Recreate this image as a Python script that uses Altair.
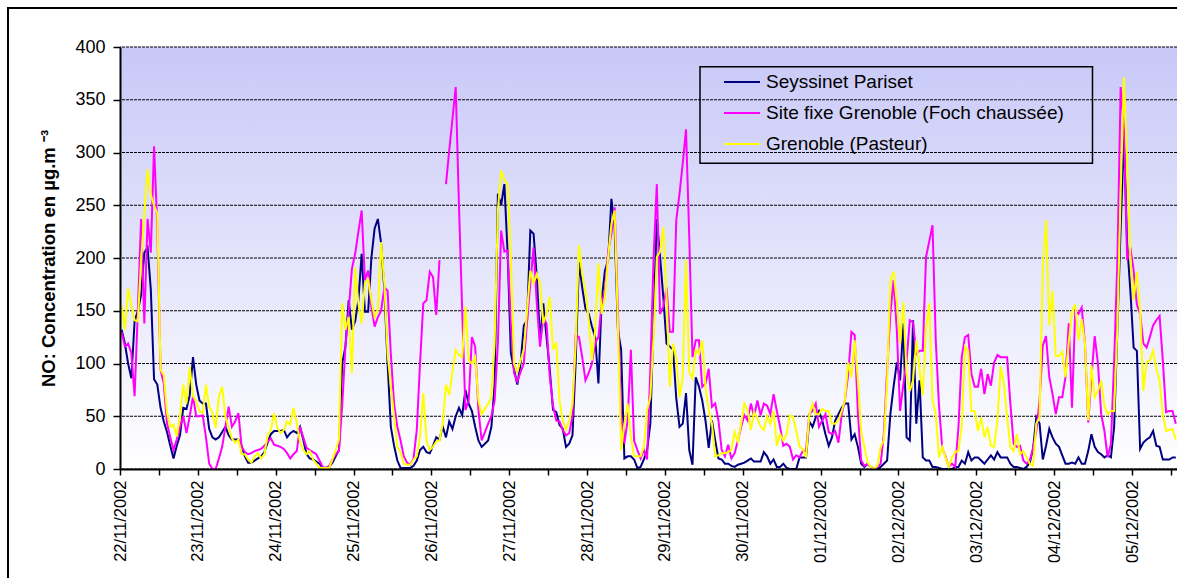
import altair as alt
import pandas as pd

# Hourly NO concentrations (µg/m3), first value at 22/11/2002 00:30
seyssinet = [
    132, 119, 100, 86, 140, 150, 165, 205, 210, 170, 85, 80, 58, 45, 35, 22, 10, 22, 32, 58, 57, 70, 106, 80,
    65, 62, 62, 38, 30, 28, 30, 35, 40, 32, 28, 28, 28, 22, 12, 6, 6, 8, 10, 12, 16, 25, 33, 36,
    36, 36, 37, 30, 34, 36, 34, 40, 28, 14, 10, 9, 7, 5, 1, 1, 2, 6, 12, 18, 100, 116, 160, 132,
    140, 160, 204, 149, 149, 200, 228, 237, 214, 170, 100, 40, 22, 8, 1, 1, 1, 1, 3, 8, 18, 21, 16, 15,
    22, 30, 28, 40, 30, 45, 38, 50, 58, 51, 75, 62, 55, 40, 27, 21, 24, 27, 40, 80, 261, 250, 270, 205,
    110, 94, 80, 100, 136, 141, 226, 223, 182, 122, 157, 125, 94, 56, 54, 42, 38, 21, 24, 32, 103, 196, 172, 152,
    147, 135, 125, 81, 160, 188, 198, 256, 229, 132, 113, 10, 12, 12, 9, 1, 2, 9, 18, 43, 141, 237, 201, 163,
    119, 116, 113, 67, 40, 43, 72, 18, 4, 87, 78, 65, 46, 20, 46, 27, 10, 9, 5, 5, 3, 2, 4, 5,
    6, 8, 10, 7, 7, 7, 16, 12, 5, 9, 2, 2, 5, 1, 0, 0, 0, 11, 11, 11, 45, 40, 49, 55,
    46, 33, 22, 30, 46, 52, 58, 62, 62, 28, 33, 21, 5, 2, 5, 2, 0, 0, 2, 5, 8, 52, 78, 101,
    84, 138, 30, 27, 141, 43, 84, 11, 8, 8, 2, 2, 1, 0, 0, 0, 0, 2, 2, 8, 5, 16, 8,
    11, 11, 8, 5, 9, 13, 9, 16, 11, 11, 11, 5, 2, 2, 1, 0, 2, 6, 19, 49, 43, 9, 22, 38,
    30, 24, 21, 13, 5, 5, 6, 5, 11, 5, 5, 17, 33, 21, 16, 14, 11, 13, 11, 40, 134, 229, 315, 213,
    169, 115, 112, 19, 25, 28, 30, 36, 22, 21, 9, 9, 9, 11, 11,
]

foch = [
    130, 116, 119, 110, 69, 150, 237, 138, 237, 205, 306, 230, 94, 81, 43, 30, 18, 28, 40, 50, 34, 50, 69, 50,
    50, 51, 30, 5, 0, 0, 10, 21, 40, 59, 40, 45, 53, 21, 16, 14, 15, 17, 18, 19, 22, 26, 29, 23,
    22, 21, 19, 15, 10, 14, 17, 40, 30, 20, 18, 16, 14, 8, 2, 1, 3, 9, 14, 17, 60, 116, 150, 190,
    204, 225, 245, 179, 188, 154, 135, 144, 150, 172, 169, 109, 62, 40, 27, 12, 6, 4, 10, 37, 100, 157, 160, 187,
    182, 146, 198, None, 270, 302, 332, 362, 250, 150, 56, 65, 125, 116, 56, 27, 35, 43, 50, 65, 119, 226, 206, 207,
    138, 91, 83, 92, 100, 140, 176, 210, 157, 116, 144, 138, 87, 60, 46, 45, 37, 32, 34, 50, 127, 125, 106, 84,
    91, 100, 120, 125, 157, 169, 206, 223, 248, 150, 50, 24, 46, 113, 27, 18, 10, 18, 9, 94, 200, 270, 147, 154,
    172, 130, 130, 236, 261, 290, 322, 220, 106, 122, 122, 78, 81, 95, 59, 62, 46, 18, 12, 23, 10, 15, 27, 40,
    51, 46, 62, 50, 65, 51, 62, 60, 52, 71, 55, 40, 22, 24, 21, 9, 13, 11, 17, 17, 52, 55, 62, 40,
    46, 52, 35, 33, 36, 25, 52, 65, 90, 130, 127, 52, 8, 3, 5, 2, 0, 2, 5, 33, 93, 147, 179, 131,
    55, 80, 103, 141, 139, 109, 112, 112, 201, 216, 231, 122, 60, 20, 12, 2, 5, 2, 40, 106, 125, 127, 90,
    78, 78, 95, 71, 90, 79, 101, 108, 106, 106, 106, 62, 24, 21, 22, 8, 5, 8, 20, 36, 65, 117, 126, 87,
    71, 52, 68, 68, 87, 138, 58, 150, 147, 153, 119, 44, 87, 126, 100, 52, 36, 11, 24, 103, 198, 362, 324, 198,
    210, 188, 156, 147, 119, 115, 125, 136, 141, 145, 103, 54, 55, 55, 43,
]

pasteur = [
    155, 132, 171, 155, 141, 140, 198, 242, 284, 260, 250, 242, 94, 89, 53, 40, 42, 31, 50, 80, 62, 97, 69, 64,
    55, 53, 80, 59, 53, 39, 69, 78, 50, 39, 29, 25, 28, 14, 14, 9, 6, 12, 15, 10, 14, 32, 37, 53,
    39, 34, 37, 45, 42, 58, 43, 26, 18, 14, 17, 9, 5, 1, 1, 1, 1, 9, 18, 28, 157, 132, 144, 91,
    191, 157, 138, 176, 180, 160, 144, 151, 215, 176, 109, 78, 50, 21, 16, 5, 4, 4, 9, 12, 31, 72, 27, 18,
    21, 26, 27, 43, 80, 70, 92, 113, 108, 106, 154, 103, 100, 106, 65, 52, 57, 62, 68, 120, 245, 283, 274, 270,
    200, 100, 92, 103, 113, 150, 188, 176, 185, 176, 138, 147, 163, 113, 120, 65, 46, 37, 46, 62, 119, 212, 185, 169,
    141, 103, 132, 195, 147, 163, 201, 232, 245, 138, 18, 43, 62, 31, 12, 12, 12, 21, 56, 68, 125, 201, 206, 229,
    163, 78, 119, 106, 68, 87, 198, 92, 86, 113, 109, 122, 78, 56, 43, 12, 13, 15, 15, 16, 18, 35, 26, 43,
    62, 56, 37, 54, 48, 40, 37, 50, 43, 55, 22, 33, 27, 33, 51, 49, 36, 21, 19, 11, 51, 62, 52, 52,
    57, 55, 55, 43, 43, 46, 55, 65, 101, 87, 122, 84, 36, 21, 6, 2, 0, 3, 21, 27, 84, 179, 187, 158,
    119, 158, 90, 74, 84, 122, 95, 70, 134, 157, 65, 52, 11, 21, 11, 2, 11, 16, 17, 40, 116, 112, 55,
    55, 36, 49, 30, 40, 22, 21, 46, 97, 81, 49, 21, 17, 33, 14, 17, 11, 5, 3, 43, 49, 191, 236, 136,
    169, 107, 107, 111, 87, 120, 149, 156, 122, 142, 119, 46, 98, 68, 74, 84, 60, 52, 55, 55, 134, 261, 371, 292,
    201, 160, 187, 150, 74, 101, 103, 112, 95, 84, 52, 36, 37, 38, 28,
]

station_names = [
    "Seyssinet Pariset",
    "Site fixe Grenoble (Foch chaussée)",
    "Grenoble (Pasteur)",
]
station_colors = ["#000080", "#FF00FF", "#FFFF00"]
y_ticks = [0, 50, 100, 150, 200, 250, 300, 350, 400]
x_ticks = list(range(0, 325, 12))  # every 12 hours

rows = []
for name, values in zip(station_names, [seyssinet, foch, pasteur]):
    for k, v in enumerate(values):
        rows.append({"heure": k + 0.5, "station": name, "no": v})
df = pd.DataFrame(rows)

W, H = 1057, 422
FONT = "Liberation Sans"

one = pd.DataFrame({"k": [0]})

y_axis = alt.Axis(
    values=y_ticks,
    labelFontSize=18,
    labelColor="black",
    labelPadding=8,
    tickSize=7,
    tickWidth=1.5,
    tickColor="black",
    domainColor="black",
    domainWidth=2,
    grid=False,
    title="NO: Concentration en µg.m ⁻³",
    titleFontSize=18.5,
    titleFontWeight="bold",
    titleColor="black",
    titleAngle=270,
    titleAlign="center",
    titleBaseline="middle",
    titleX=-72,
    titleY=H / 2,
    zindex=1,
)
y_enc = alt.Y("no:Q", scale=alt.Scale(domain=[0, 400], nice=False), axis=y_axis)

background = alt.Chart(one).mark_rect(
    fill=alt.LinearGradient(
        gradient="linear",
        x1=0, y1=0, x2=0, y2=1,
        stops=[
            alt.GradientStop(color="#C8C8F8", offset=0),
            alt.GradientStop(color="#FFFFFF", offset=1),
        ],
    )
).encode(x=alt.value(0), x2=alt.value(W), y=alt.value(0), y2=alt.value(H))

grid = alt.Chart(pd.DataFrame({"no": y_ticks})).mark_rule(
    color="black", strokeDash=[3, 1], strokeWidth=1.1
).encode(y=y_enc)

label_expr = (
    "datum.value % 24 == 0 ? "
    "utcFormat(utc(2002, 10, 22) + datum.value * 3600000, '%d/%m/%Y') : ''"
)

lines = alt.Chart(df).mark_line(
    strokeWidth=2, invalid="break-paths-filter-domains"
).encode(
    x=alt.X(
        "heure:Q",
        scale=alt.Scale(domain=[0, W / 3.2436], nice=False, zero=False),
        axis=alt.Axis(
            values=x_ticks,
            labelExpr=label_expr,
            labelAngle=270,
            labelFontSize=16.5,
            labelColor="black",
            labelOverlap=False,
            labelPadding=5,
            tickSize=6,
            tickWidth=1.5,
            tickColor="black",
            domainColor="black",
            domainWidth=2,
            grid=False,
            title=None,
            zindex=1,
        ),
    ),
    y=y_enc,
    color=alt.Color(
        "station:N",
        scale=alt.Scale(domain=station_names, range=station_colors),
        legend=alt.Legend(
            title=None,
            orient="none",
            legendX=603,
            legendY=16,
            direction="vertical",
            symbolType="stroke",
            symbolSize=1296,
            symbolStrokeWidth=2,
            labelFontSize=19,
            labelColor="black",
            labelLimit=500,
            labelOffset=5,
            rowPadding=2,
            padding=0,
        ),
    ),
)

legend_box = alt.Chart(one).mark_rect(
    fillOpacity=0, stroke="black", strokeWidth=1.5
).encode(x=alt.value(580), x2=alt.value(972.5), y=alt.value(19.7), y2=alt.value(116.3))

frame = alt.Chart(one).mark_rect(
    fillOpacity=0, stroke="black", strokeWidth=2
).encode(x=alt.value(-112), x2=alt.value(1100), y=alt.value(-39), y2=alt.value(560))

chart = alt.layer(background, grid, lines, legend_box, frame).properties(
    width=W,
    height=H,
    autosize=alt.AutoSizeParams(type="none"),
    padding={"left": 120, "top": 47, "right": 0, "bottom": 109},
    background="white",
).configure(font=FONT).configure_view(strokeWidth=0)

chart.save("out.html", embed_options={"renderer": "svg", "actions": False})
